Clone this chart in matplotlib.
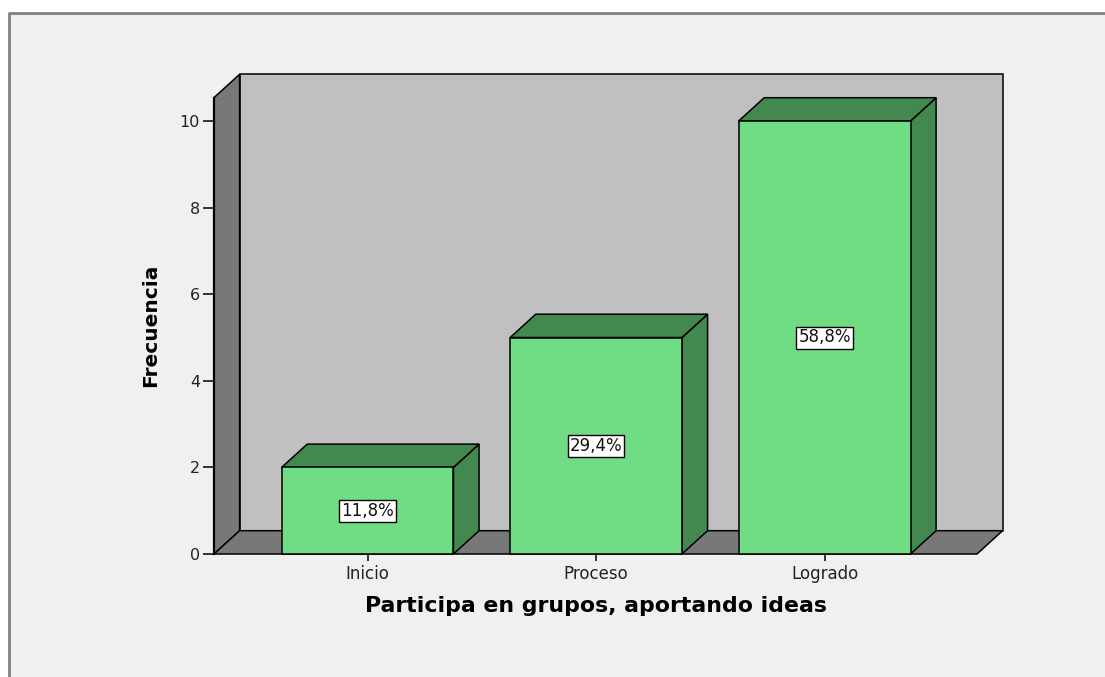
import matplotlib
matplotlib.use("Agg")
import matplotlib.pyplot as plt
from matplotlib.patches import Polygon, Rectangle
from matplotlib.lines import Line2D

# Frequencies per category and the percentage shown on each bar
categories = ["Inicio", "Proceso", "Logrado"]
counts = [2, 5, 10]
pct_labels = ["11,8%", "29,4%", "58,8%"]
y_ticks = [0, 2, 4, 6, 8, 10]

FRONT = "#70dd84"
SHADE = "#43894f"
WALL_BACK = "#c0c0c0"
WALL_DARK = "#787878"
FRAME_BG = "#f0f0f0"

fig = plt.figure(figsize=(11.05, 6.77), dpi=100)
fig.patch.set_facecolor("white")

# outer chart frame: light fill, grey border on top and left only
fx, fy = 9 / 1105, 1 - 13 / 677
fig.patches.append(Rectangle((fx, 0), 1 - fx, fy, transform=fig.transFigure,
                             facecolor=FRAME_BG, edgecolor="none", zorder=-2))
fig.lines.append(Line2D([fx, fx, 1], [0, fy, fy], transform=fig.transFigure,
                        color="#808080", lw=2, zorder=-1))

ax = fig.add_axes([214 / 1105, 123 / 677, 763 / 1105, 433 / 677])
ax.set_facecolor("none")
ax.set_xlim(-0.672, 2.667)
ax.set_ylim(0, 10)
for s in ax.spines.values():
    s.set_visible(False)

# 3D depth offset (data units) and wall geometry
dx, dy = 0.112, 0.538
x0, x1 = ax.get_xlim()
wall_h = 10.54
half_w = 0.376
edge = dict(edgecolor="black", lw=1.1, clip_on=False, joinstyle="miter")

ax.add_patch(Polygon([(x0 + dx, dy), (x1 + dx, dy), (x1 + dx, wall_h + dy),
                      (x0 + dx, wall_h + dy)], facecolor=WALL_BACK, zorder=1, **edge))
ax.add_patch(Polygon([(x0, 0), (x0, wall_h), (x0 + dx, wall_h + dy),
                      (x0 + dx, dy)], facecolor=WALL_DARK, zorder=2, **edge))
ax.add_patch(Polygon([(x0, 0), (x1, 0), (x1 + dx, dy), (x0 + dx, dy)],
                     facecolor=WALL_DARK, zorder=2, **edge))
# heavier front edge of the left wall (value axis line)
ax.plot([x0, x0], [0, wall_h], color="black", lw=1.6, clip_on=False, zorder=3)

for i, (v, lab) in enumerate(zip(counts, pct_labels)):
    l, r = i - half_w, i + half_w
    ax.add_patch(Polygon([(r, 0), (r + dx, dy), (r + dx, v + dy), (r, v)],
                         facecolor=SHADE, zorder=4, **edge))
    ax.add_patch(Polygon([(l, v), (r, v), (r + dx, v + dy), (l + dx, v + dy)],
                         facecolor=SHADE, zorder=4, **edge))
    ax.add_patch(Polygon([(l, 0), (r, 0), (r, v), (l, v)],
                         facecolor=FRONT, zorder=5, **edge))
    ax.text(i, v / 2, lab, ha="center", va="center", fontsize=12,
            family="DejaVu Sans", color="#111111", zorder=6,
            bbox=dict(boxstyle="square,pad=0.12", facecolor="white",
                      edgecolor="black", lw=1))

ax.set_xticks(range(len(categories)))
ax.set_xticklabels(categories, fontsize=12, family="DejaVu Sans", color="#222222")
ax.set_yticks(y_ticks)
ax.set_yticklabels([str(t) for t in y_ticks], fontsize=11.5,
                   family="DejaVu Sans", color="#222222")
ax.tick_params(axis="y", length=8, width=1.1, pad=2, color="black")
ax.tick_params(axis="x", length=5, width=1.1, pad=3, color="black")

ax.set_xlabel("Participa en grupos, aportando ideas", fontsize=15.8,
              fontweight="bold", family="DejaVu Sans")
ax.xaxis.set_label_coords(0.5006, -0.098)
ax.set_ylabel("Frecuencia", fontsize=14.5, fontweight="bold", family="DejaVu Sans")
ax.yaxis.set_label_coords(-0.07, 0.527)

fig.savefig("out.png", dpi=100)
